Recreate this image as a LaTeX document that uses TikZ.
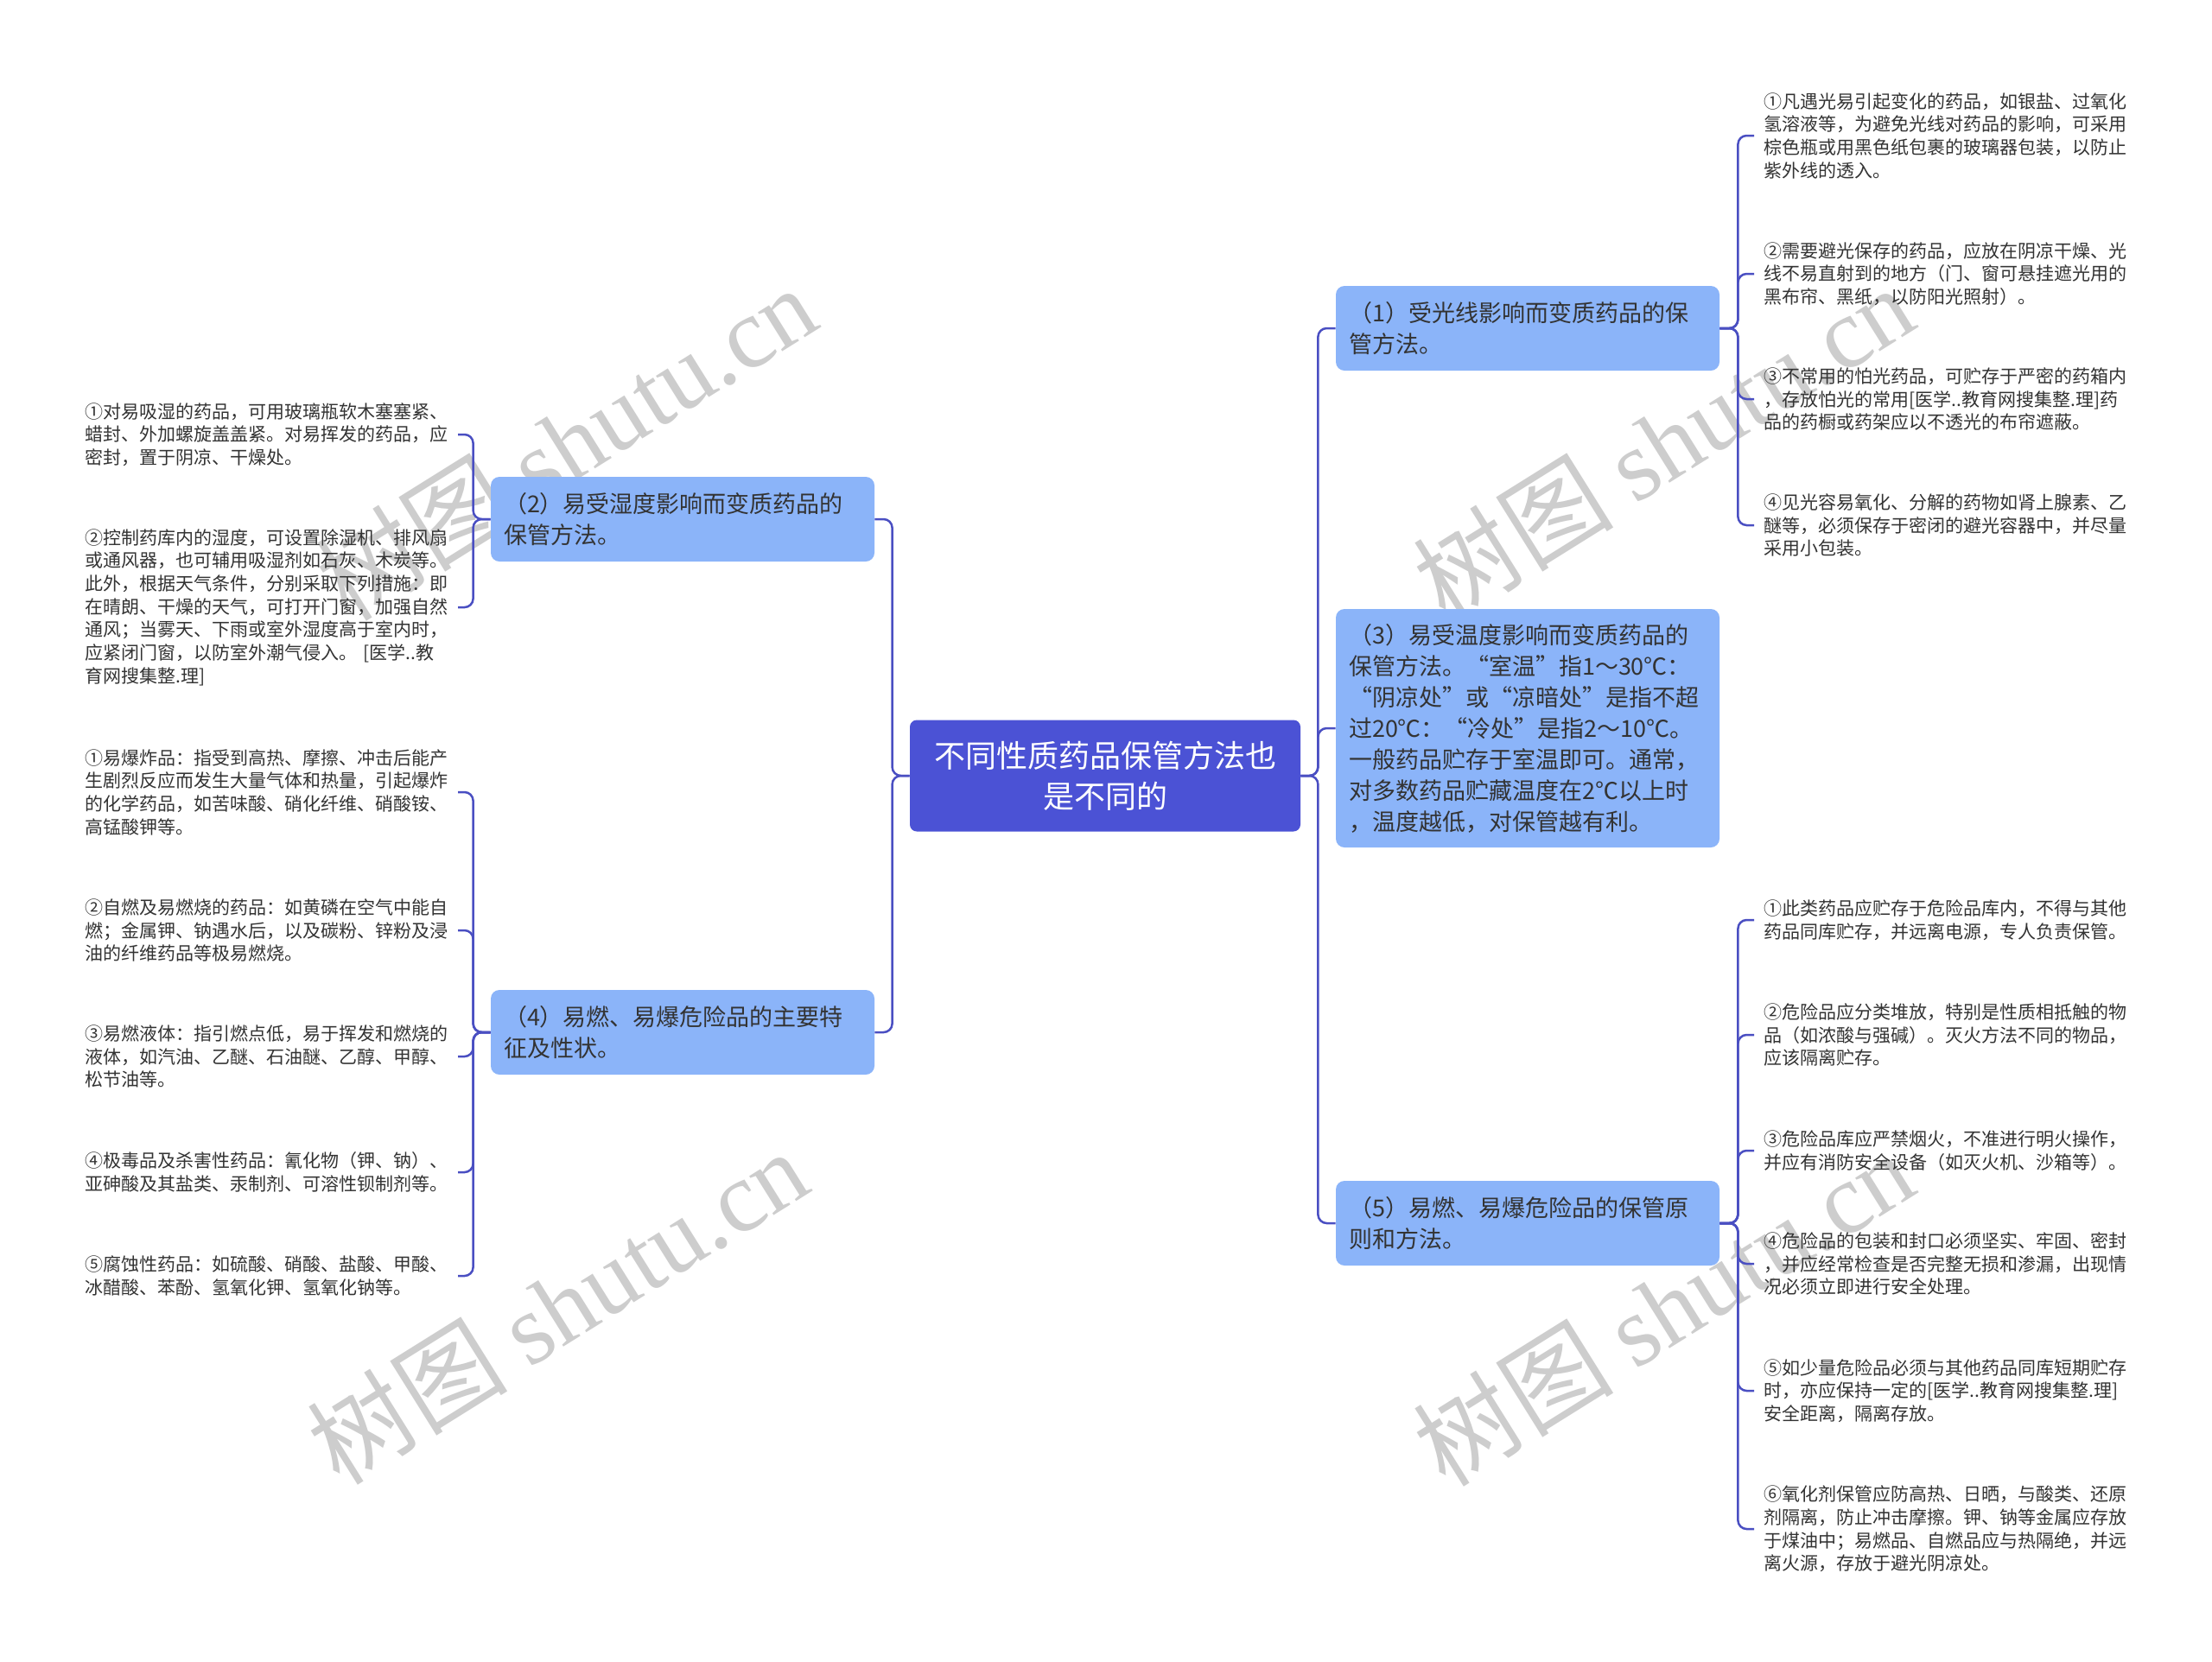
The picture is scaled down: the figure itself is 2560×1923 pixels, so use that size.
\documentclass[tikz,border=0pt]{standalone}
\usepackage{fontspec}
\setmainfont{Noto Sans CJK SC}
\newfontfamily\wmfont{Liberation Serif}
\definecolor{cfill}{RGB}{75,82,213}
\definecolor{bfill}{RGB}{139,180,249}
\definecolor{lcol}{RGB}{74,79,194}
\definecolor{tcol}{RGB}{51,51,51}
\definecolor{wmcol}{RGB}{205,205,205}
\begin{document}
\begin{tikzpicture}[x=0.5pt,y=-0.5pt,
  centerbox/.style={fill=cfill, rounded corners=4pt, text=white, font=\fontsize{18pt}{23.5pt}\selectfont, align=center, minimum width=226pt, minimum height=64.5pt, inner sep=0pt},
  branchbox/.style={fill=bfill, rounded corners=5pt, text=tcol, font=\fontsize{13.5pt}{18pt}\selectfont, align=left, text width=207pt, inner xsep=7.5pt, inner ysep=0pt},
  leafl/.style={anchor=east, text width=210pt, inner xsep=5.5pt, inner ysep=0pt, align=left, font=\fontsize{10.5pt}{13.35pt}\selectfont, text=tcol},
  leafr/.style={anchor=west, text width=210pt, inner xsep=5.5pt, inner ysep=0pt, align=left, font=\fontsize{10.5pt}{13.35pt}\selectfont, text=tcol},
  conn/.style={draw=lcol, line width=1.25pt, rounded corners=5pt},
  wm/.style={text=wmcol, font=\fontsize{58pt}{64pt}\selectfont, rotate=32, inner sep=0pt}
]
\useasboundingbox (0,0) rectangle (2560,1923);
\fill[white] (0,0) rectangle (2560,1923);

% watermarks
\node[wm] (w1) at (655,512) {树图 {\wmfont shutu.cn}};
\node[wm] (w2) at (1925,512) {树图 {\wmfont shutu.cn}};
\node[wm] (w3) at (645,1512) {树图 {\wmfont shutu.cn}};
\node[wm] (w4) at (1925,1514) {树图 {\wmfont shutu.cn}};

% center
\node[centerbox] (c) at (1279,898) {不同性质药品保管方法也\\是不同的};

% branches
\node[branchbox, minimum height=49pt] (b1) at (1768,380) {（1）受光线影响而变质药品的保\\管方法。};
\node[branchbox, minimum height=138pt] (b3) at (1768,843) {（3）易受温度影响而变质药品的\\保管方法。“室温”指1～30℃：\\“阴凉处”或“凉暗处”是指不超\\过20℃：“冷处”是指2～10℃。\\一般药品贮存于室温即可。通常，\\对多数药品贮藏温度在2℃以上时\\，温度越低，对保管越有利。};
\node[branchbox, minimum height=49pt] (b5) at (1768,1416) {（5）易燃、易爆危险品的保管原\\则和方法。};
\node[branchbox, minimum height=49pt] (b2) at (790,601) {（2）易受湿度影响而变质药品的\\保管方法。};
\node[branchbox, minimum height=49pt] (b4) at (790,1195) {（4）易燃、易爆危险品的主要特\\征及性状。};

% right leaves of (1)
\node[leafr] (r11) at (2030,157) {①凡遇光易引起变化的药品，如银盐、过氧化\\氢溶液等，为避免光线对药品的影响，可采用\\棕色瓶或用黑色纸包裹的玻璃器包装，以防止\\紫外线的透入。};
\node[leafr] (r12) at (2030,317) {②需要避光保存的药品，应放在阴凉干燥、光\\线不易直射到的地方（门、窗可悬挂遮光用的\\黑布帘、黑纸，以防阳光照射）。};
\node[leafr] (r13) at (2030,462) {③不常用的怕光药品，可贮存于严密的药箱内\\，存放怕光的常用[医学..教育网搜集整.理]药\\品的药橱或药架应以不透光的布帘遮蔽。};
\node[leafr] (r14) at (2030,608) {④见光容易氧化、分解的药物如肾上腺素、乙\\醚等，必须保存于密闭的避光容器中，并尽量\\采用小包装。};

% right leaves of (5)
\node[leafr] (r51) at (2030,1065) {①此类药品应贮存于危险品库内，不得与其他\\药品同库贮存，并远离电源，专人负责保管。};
\node[leafr] (r52) at (2030,1198) {②危险品应分类堆放，特别是性质相抵触的物\\品（如浓酸与强碱）。灭火方法不同的物品，\\应该隔离贮存。};
\node[leafr] (r53) at (2030,1332) {③危险品库应严禁烟火，不准进行明火操作，\\并应有消防安全设备（如灭火机、沙箱等）。};
\node[leafr] (r54) at (2030,1463) {④危险品的包装和封口必须坚实、牢固、密封\\，并应经常检查是否完整无损和渗漏，出现情\\况必须立即进行安全处理。};
\node[leafr] (r55) at (2030,1610) {⑤如少量危险品必须与其他药品同库短期贮存\\时，亦应保持一定的[医学..教育网搜集整.理]\\安全距离，隔离存放。};
\node[leafr] (r56) at (2030,1770) {⑥氧化剂保管应防高热、日晒，与酸类、还原\\剂隔离，防止冲击摩擦。钾、钠等金属应存放\\于煤油中；易燃品、自燃品应与热隔绝，并远\\离火源，存放于避光阴凉处。};

% left leaves of (2)
\node[leafl] (l21) at (530,503) {①对易吸湿的药品，可用玻璃瓶软木塞塞紧、\\蜡封、外加螺旋盖盖紧。对易挥发的药品，应\\密封，置于阴凉、干燥处。};
\node[leafl] (l22) at (530,703) {②控制药库内的湿度，可设置除湿机、排风扇\\或通风器，也可辅用吸湿剂如石灰、木炭等。\\此外，根据天气条件，分别采取下列措施：即\\在晴朗、干燥的天气，可打开门窗，加强自然\\通风；当雾天、下雨或室外湿度高于室内时，\\应紧闭门窗，以防室外潮气侵入。 [医学..教\\育网搜集整.理]};

% left leaves of (4)
\node[leafl] (l41) at (530,917) {①易爆炸品：指受到高热、摩擦、冲击后能产\\生剧烈反应而发生大量气体和热量，引起爆炸\\的化学药品，如苦味酸、硝化纤维、硝酸铵、\\高锰酸钾等。};
\node[leafl] (l42) at (530,1077) {②自燃及易燃烧的药品：如黄磷在空气中能自\\燃；金属钾、钠遇水后，以及碳粉、锌粉及浸\\油的纤维药品等极易燃烧。};
\node[leafl] (l43) at (530,1223) {③易燃液体：指引燃点低，易于挥发和燃烧的\\液体，如汽油、乙醚、石油醚、乙醇、甲醇、\\松节油等。};
\node[leafl] (l44) at (530,1357) {④极毒品及杀害性药品：氰化物（钾、钠）、\\亚砷酸及其盐类、汞制剂、可溶性钡制剂等。};
\node[leafl] (l45) at (530,1477) {⑤腐蚀性药品：如硫酸、硝酸、盐酸、甲酸、\\冰醋酸、苯酚、氢氧化钾、氢氧化钠等。};

% connectors center -> branches
\foreach \b in {b1,b3,b5} \draw[conn] (c.east) -- ++(20,0) |- (\b.west);
\foreach \b in {b2,b4} \draw[conn] (c.west) -- ++(-20,0) |- (\b.east);

% branch -> leaves
\foreach \l in {r11,r12,r13,r14} \draw[conn] (b1.east) -- ++(21,0) |- (\l.west);
\foreach \l in {r51,r52,r53,r54,r55,r56} \draw[conn] (b5.east) -- ++(21,0) |- (\l.west);
\foreach \l in {l21,l22} \draw[conn] (b2.west) -- ++(-20,0) |- (\l.east);
\foreach \l in {l41,l42,l43,l44,l45} \draw[conn] (b4.west) -- ++(-20,0) |- (\l.east);
\end{tikzpicture}
\end{document}
